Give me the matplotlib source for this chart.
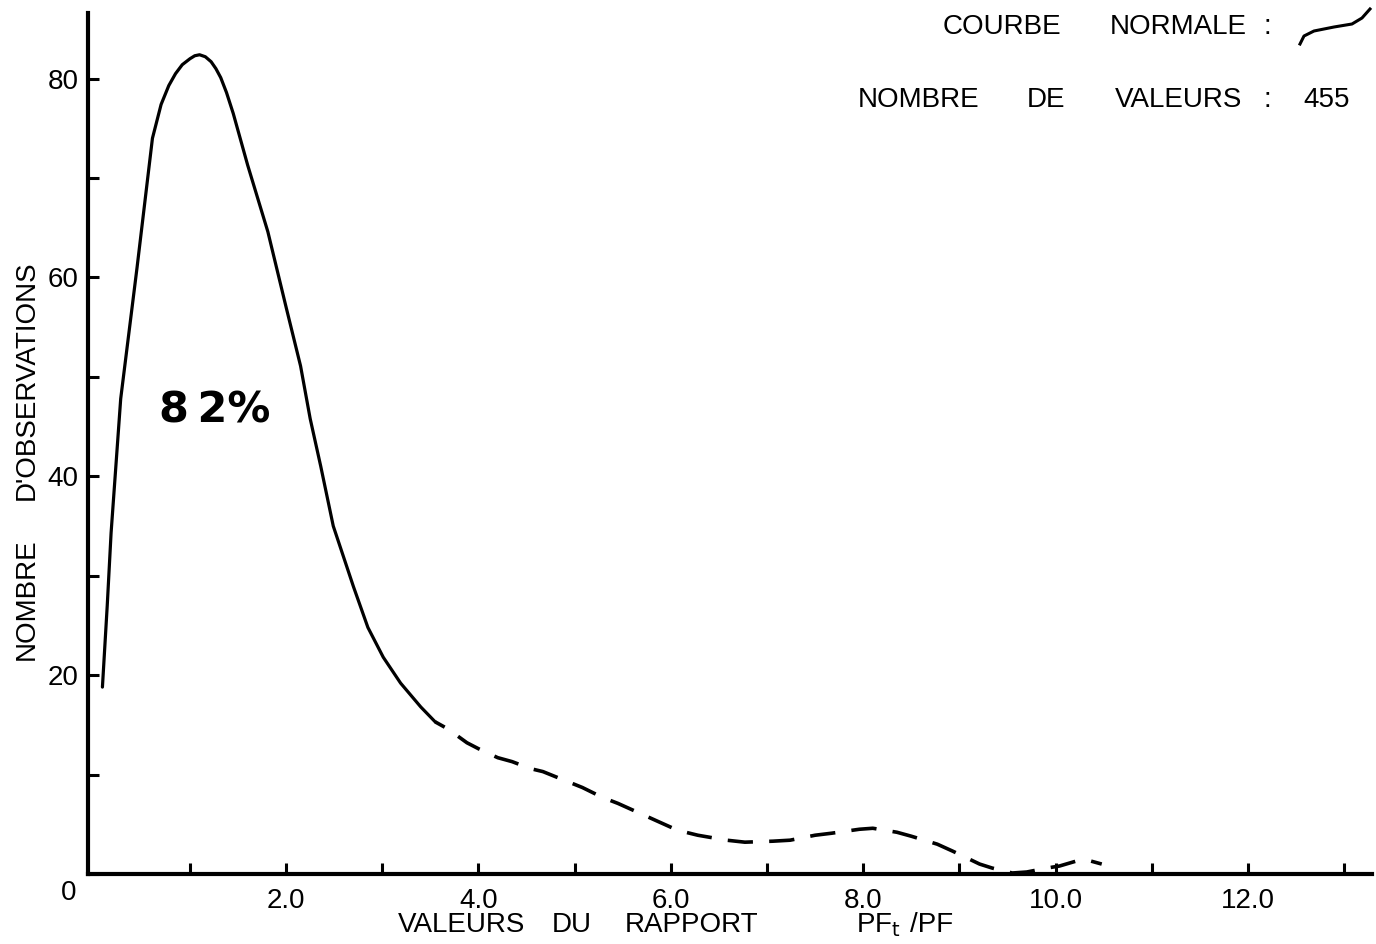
import matplotlib.pyplot as plt
from matplotlib.lines import Line2D

plt.rcParams['font.family'] = ['Liberation Sans', 'DejaVu Sans']

# courbe observee (trait plein puis tirets)
x_plein = [0.09, 0.14, 0.18, 0.28, 0.45, 0.61, 0.70, 0.78, 0.85, 0.92, 1.00,
           1.05, 1.10, 1.16, 1.22, 1.27, 1.32, 1.38, 1.45, 1.60, 1.81, 2.00,
           2.15, 2.25, 2.36, 2.49, 2.70, 2.85, 3.01, 3.19, 3.40, 3.55]
y_plein = [18.8, 27.0, 34.3, 47.8, 61.0, 74.0, 77.4, 79.3, 80.5, 81.4, 82.0,
           82.3, 82.4, 82.2, 81.7, 81.0, 80.1, 78.6, 76.5, 71.3, 64.6, 57.0,
           51.1, 45.8, 41.0, 35.0, 28.9, 24.8, 21.8, 19.2, 16.8, 15.3]

x_tirets = [3.55, 3.68, 3.88, 4.00, 4.20, 4.35, 4.54, 4.67, 4.90, 5.08, 5.29,
            5.45, 5.68, 5.84, 6.07, 6.28, 6.58, 6.77, 7.06, 7.24, 7.50, 7.67,
            7.96, 8.10, 8.35, 8.50, 8.77, 8.93, 9.21, 9.34, 9.55, 9.70, 9.91,
            10.04, 10.25, 10.33, 10.48]
y_tirets = [15.3, 14.6, 13.2, 12.6, 11.7, 11.3, 10.6, 10.3, 9.4, 8.7, 7.7,
            7.1, 6.1, 5.4, 4.4, 3.9, 3.4, 3.2, 3.3, 3.4, 3.9, 4.1,
            4.5, 4.6, 4.2, 3.8, 3.0, 2.3, 1.0, 0.6, 0.1, 0.2, 0.6,
            0.8, 1.4, 1.4, 1.0]

yticks = [0, 20, 40, 60, 80]
ylabels = ['', '20', '40', '60', '80']
yticks_min = [10, 30, 50, 70]
xticks = [2, 4, 6, 8, 10, 12]
xlabels = ['2.0', '4.0', '6.0', '8.0', '10.0', '12.0']
xticks_min = [1, 3, 5, 7, 9, 11, 13]

W, H = 1376, 944
fig = plt.figure(figsize=(W / 100, H / 100), dpi=100)
ax = fig.add_axes([88 / W, 1 - 874 / H, 1284 / W, 861 / H])

ax.plot(x_plein, y_plein, color='black', lw=2.3, solid_capstyle='round')
ax.plot(x_tirets, y_tirets, color='black', lw=2.6, linestyle=(4, (7, 4.5)))

ax.set_xlim(-0.06, 13.29)
ax.set_ylim(0, 86.6)

for s in ['top', 'right']:
    ax.spines[s].set_visible(False)
for s in ['left', 'bottom']:
    ax.spines[s].set_linewidth(3)

ax.set_yticks(yticks)
ax.set_yticklabels(ylabels)
ax.set_yticks(yticks_min, minor=True)
ax.set_xticks(xticks)
ax.set_xticklabels(xlabels)
ax.set_xticks(xticks_min, minor=True)
ax.tick_params(which='both', direction='in', length=8, width=2.2, labelsize=20)
ax.tick_params(axis='x', which='major', pad=10)
ax.tick_params(axis='y', which='major', pad=7)


def mot(x, y, s, size=20, **kw):
    # place un mot en pixels de la figure
    fig.text(x / W, 1 - y / H, s, fontsize=size, **kw)


# origine
mot(69, 893, '0', ha='center', va='center')

# titre de l'axe x
for x, s in [(398, 'VALEURS'), (552, 'DU'), (625, 'RAPPORT'),
             (856, 'PF$_\\mathrm{t}$'), (910, '/PF')]:
    mot(x, 925, s, ha='left', va='center')

# titre de l'axe y
for y, s in [(660, 'NOMBRE'), (500, "D'OBSERVATIONS")]:
    mot(27, y, s, ha='center', va='bottom', rotation=90)

mot(215, 410, '8\u20092%', size=31, fontweight='bold', family='DejaVu Sans',
    ha='center', va='center')

# legende en haut a droite
for x, s in [(943, 'COURBE'), (1110, 'NORMALE'), (1264, ':')]:
    mot(x, 27, s, ha='left', va='center')
for x, s in [(858, 'NOMBRE'), (1027, 'DE'), (1115, 'VALEURS'),
             (1264, ':'), (1303, '455')]:
    mot(x, 100, s, ha='left', va='center')

lx = [1300, 1304, 1314, 1334, 1352, 1362, 1370]
ly = [44, 36, 31, 27, 24, 18, 9]
fig.add_artist(Line2D([v / W for v in lx], [1 - v / H for v in ly],
                      color='black', lw=2.2, transform=fig.transFigure))

fig.savefig('out.png', dpi=100)
